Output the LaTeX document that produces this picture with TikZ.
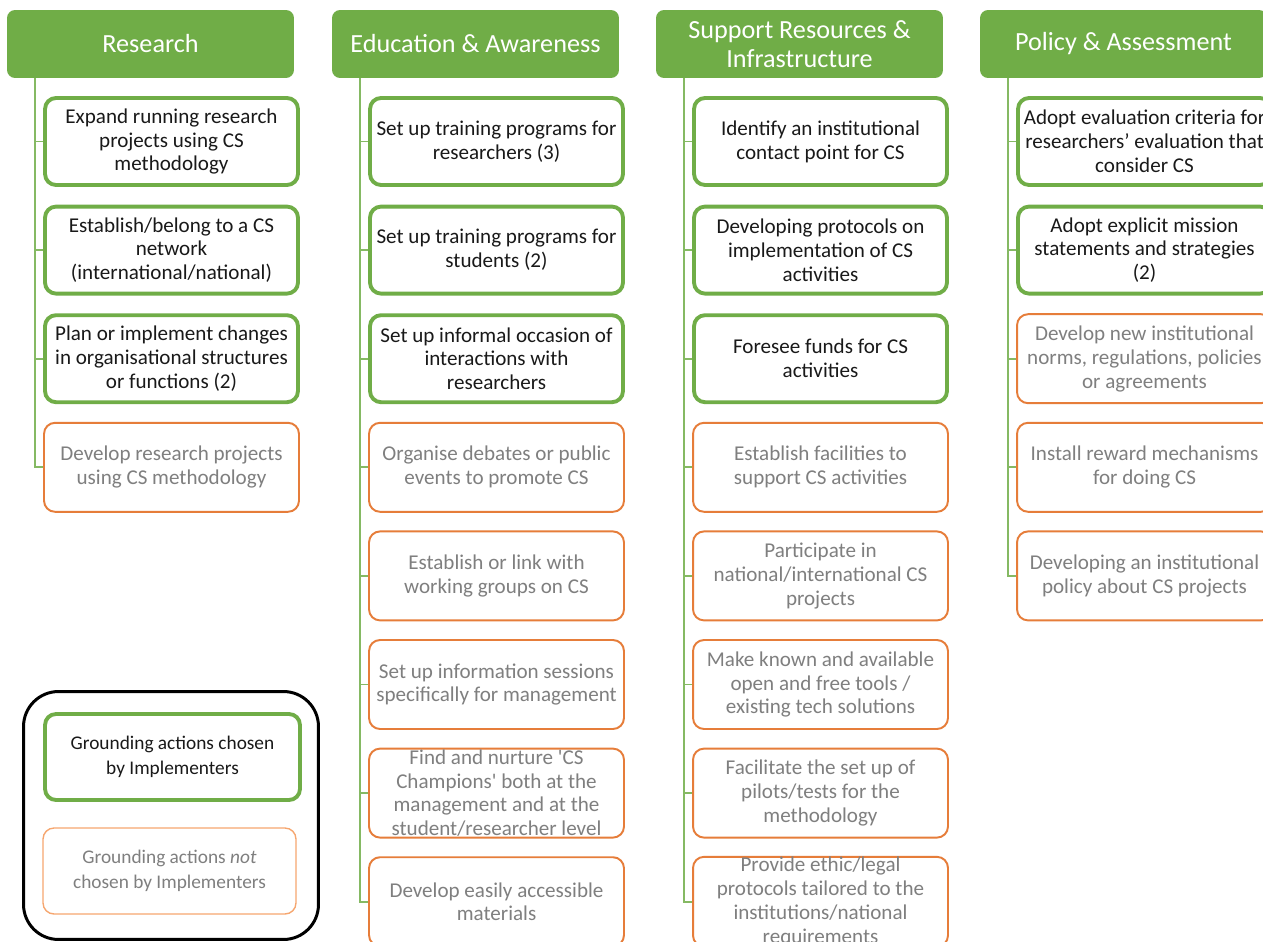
\documentclass[tikz,border=0pt]{standalone}
\usepackage{fontspec}
\setmainfont{Carlito}
\usepackage{tikz}
\usepackage{xcolor}
\definecolor{leafgreen}{HTML}{70AD47}
\definecolor{boxorange}{HTML}{E67D3A}
\definecolor{softorange}{HTML}{F6A66F}
\definecolor{greytext}{HTML}{7F7F7F}
\tikzstyle{header} = [rectangle, rounded corners=0.16cm, fill=leafgreen, text=white, minimum width=5.74cm, minimum height=1.36cm, inner sep=0pt, align=center, font=\fontsize{14.9}{16.5}\selectfont]
\tikzstyle{chosen} = [rectangle, rounded corners=0.22cm, draw=leafgreen, line width=2.2pt, fill=white, minimum width=5.06cm, minimum height=1.74cm, inner sep=0pt, align=center, text=black!90, font=\fontsize{12}{13.6}\selectfont]
\tikzstyle{notchosen} = [chosen, draw=boxorange, line width=1.1pt, minimum width=5.1cm, minimum height=1.78cm, text=greytext]
\tikzstyle{conn} = [draw=leafgreen!85, line width=1.1pt]

\begin{document}
\begin{tikzpicture}[x=0.02cm, y=-0.02cm]
\useasboundingbox (0,0) rectangle (1263,942);
\clip (0,0) rectangle (1263,942);
\fill[white] (0,0) rectangle (1263,942);

% headers
\node[header] (hr) at (150.5,44) {Research};
\node[header] (he) at (475.5,44) {Education \& Awareness};
\node[header] (hs) at (799.5,44) {Support Resources \&\\Infrastructure};
\node[header] (hp) at (1123.5,44) {Policy \& Assessment};

% research
\node[chosen] (r1) at (171.5,141.5) {Expand running research\\projects using CS\\methodology};
\node[chosen] (r2) at (171.5,250.1) {Establish/belong to a CS\\network\\(international/national)};
\node[chosen] (r3) at (171.5,358.7) {Plan or implement changes\\in organisational structures\\or functions (2)};
\node[notchosen] (r4) at (171.5,467.3) {Develop research projects\\using CS methodology};

% education
\node[chosen] (e1) at (496.5,141.5) {Set up training programs for\\researchers (3)};
\node[chosen] (e2) at (496.5,250.1) {Set up training programs for\\students (2)};
\node[chosen] (e3) at (496.5,358.7) {Set up informal occasion of\\interactions with\\researchers};
\node[notchosen] (e4) at (496.5,467.3) {Organise debates or public\\events to promote CS};
\node[notchosen] (e5) at (496.5,575.9) {Establish or link with\\working groups on CS};
\node[notchosen] (e6) at (496.5,684.5) {Set up information sessions\\specifically for management};
\node[notchosen] (e7) at (496.5,793.1) {Find and nurture \textquotesingle CS\\Champions\textquotesingle{} both at the\\management and at the\\student/researcher level};
\node[notchosen] (e8) at (496.5,901.7) {Develop easily accessible\\materials};

% support
\node[chosen] (s1) at (820.5,141.5) {Identify an institutional\\contact point for CS};
\node[chosen] (s2) at (820.5,250.1) {Developing protocols on\\implementation of CS\\activities};
\node[chosen] (s3) at (820.5,358.7) {Foresee funds for CS\\activities};
\node[notchosen] (s4) at (820.5,467.3) {Establish facilities to\\support CS activities};
\node[notchosen] (s5) at (820.5,575.9) {Participate in\\national/international CS\\projects};
\node[notchosen] (s6) at (820.5,684.5) {Make known and available\\open and free tools /\\existing tech solutions};
\node[notchosen] (s7) at (820.5,793.1) {Facilitate the set up of\\pilots/tests for the\\methodology};
\node[notchosen] (s8) at (820.5,901.7) {Provide ethic/legal\\protocols tailored to the\\institutions/national\\requirements};

% policy
\node[chosen] (p1) at (1144.5,141.5) {Adopt evaluation criteria for\\researchers’ evaluation that\\consider CS};
\node[chosen] (p2) at (1144.5,250.1) {Adopt explicit mission\\statements and strategies\\(2)};
\node[notchosen] (p3) at (1144.5,358.7) {Develop new institutional\\norms, regulations, policies\\or agreements};
\node[notchosen] (p4) at (1144.5,467.3) {Install reward mechanisms\\for doing CS};
\node[notchosen] (p5) at (1144.5,575.9) {Developing an institutional\\policy about CS projects};

\foreach \hd/\ch/\n in {hr/r/4,he/e/8,hs/s/8,hp/p/5}
{
	\foreach \k in {1,...,\n}
		\draw[conn] ([xshift=0.56cm]\hd.south west) |- (\ch\k.west);
}

% legend
\node[draw=black, line width=1.7pt, rounded corners=0.7cm, minimum width=5.9cm, minimum height=4.96cm] (key) at (171,815.5) {};
\node[chosen, minimum width=5.1cm, minimum height=1.72cm, font=\fontsize{11}{14}\selectfont] (keyin) at (172.5,757) {Grounding actions chosen\\by Implementers};
\node[notchosen, draw=softorange, line width=0.8pt, minimum width=5.06cm, minimum height=1.72cm, font=\fontsize{11}{14}\selectfont] (keyout) at (169.5,871) {Grounding actions \emph{not}\\chosen by Implementers};

\end{tikzpicture}
\end{document}
